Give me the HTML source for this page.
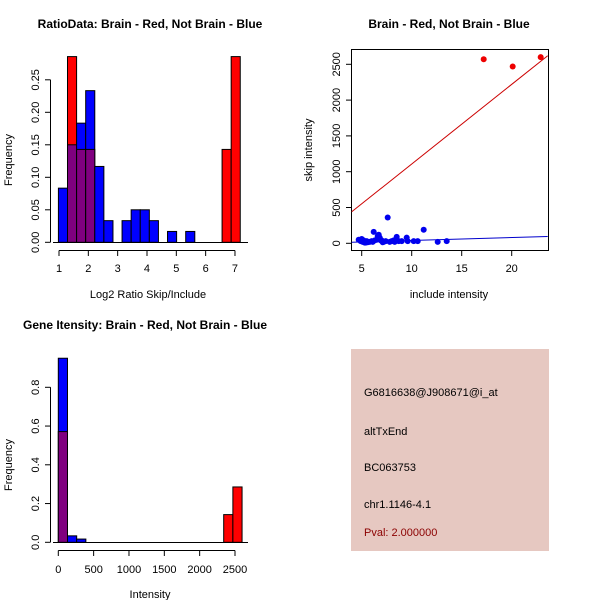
<!DOCTYPE html>
<html><head><meta charset="utf-8"><style>
body{margin:0;background:#fff}
svg{display:block;font-family:"Liberation Sans",sans-serif}
</style></head><body>
<svg id="c" width="600" height="600" xmlns="http://www.w3.org/2000/svg">
<rect width="600" height="600" fill="#fff"/>
</svg>
<script>
// ---- data: panel 1 histogram (Log2 ratio) ----
const ratioBinStart = 0.98;
const ratioBinWidth = 0.31;
const ratioBlue = [0.0833,0.15,0.1833,0.2333,0.1167,0.0333,0,0.0333,0.05,0.05,0.0333,0,0.0167,0,0.0167,0,0,0,0,0];
const ratioRed  = [0,0.2857,0.1429,0.1429,0,0,0,0,0,0,0,0,0,0,0,0,0,0,0.1429,0.2857];
const ratioXTicks = [1,2,3,4,5,6,7];
const ratioYTicks = ["0.00","0.05","0.10","0.15","0.20","0.25"];
// ---- data: panel 2 scatter ----
const blueX = [4.7,4.9,5.0,5.1,5.2,5.3,5.5,5.6,5.8,6.0,6.2,6.3,6.5,6.6,6.7,6.8,6.9,7.0,7.2,7.4,7.6,7.8,8.0,8.2,8.5,8.7,9.0,9.5,9.6,10.2,10.6,11.2,12.6,13.5,5.4,6.1,7.1,8.3];
const blueY = [50,30,60,20,40,10,30,15,20,30,160,40,50,100,120,80,40,40,20,30,360,20,30,40,90,30,30,80,30,30,30,190,20,30,10,20,15,20];
const redX = [17.2,20.1,22.9];
const redY = [2570,2470,2600];
const redLine = [4, 440, 23.6, 2620];
const blueLine = [4, 15, 23.6, 95];
const scatXTicks = [5,10,15,20];
const scatYTicks = [0,500,1000,1500,2000,2500];
// ---- data: panel 3 histogram (intensity) ----
const intBinWidth = 130;
const intBlue = [0.95,0.0333,0.0167,0,0,0,0,0,0,0,0,0,0,0,0,0,0,0,0,0];
const intRed  = [0.5714,0,0,0,0,0,0,0,0,0,0,0,0,0,0,0,0,0,0.1429,0.2857];
const intXTicks = [0,500,1000,1500,2000,2500];
const intYTicks = ["0.0","0.2","0.4","0.6","0.8"];

const svg=document.getElementById('c');
const NS="http://www.w3.org/2000/svg";
function mk(tag,a,parent){const e=document.createElementNS(NS,tag);for(const k in a)e.setAttribute(k,a[k]);(parent||svg).appendChild(e);return e;}
function txt(s,x,y,a){const e=mk('text',Object.assign({x:x,y:y,'font-size':11,'text-anchor':'middle',fill:'#000'},a||{}));e.textContent=s;return e;}

function histo(g,blue,red,start,w,sx,sy){
  for(let i=0;i<blue.length;i++){
    const x0=sx(start+i*w),x1=sx(start+(i+1)*w);
    const b=blue[i],r=red[i],m=Math.min(b,r),M=Math.max(b,r);
    if(M<=0)continue;
    const topCol=b>=r?'#0000ff':'#ff0000';
    const e=mk('rect',{x:x0,y:sy(M),width:x1-x0,height:sy(0)-sy(M),fill:topCol,stroke:'#000','stroke-width':1},g);
    
    
    if(m>0){
      const p=mk('rect',{x:x0,y:sy(m),width:x1-x0,height:sy(0)-sy(m),fill:'#7f007f',stroke:'#000','stroke-width':1},g);
      
      
    }
  }
}

// Panel 1
{
 const g=mk('g',{});
 
 
 const sx=v=>59+(v-1)*29.33, sy=v=>242.3-v*650;
 histo(g,ratioBlue,ratioRed,ratioBinStart,ratioBinWidth,sx,sy);
 mk('line',{x1:53,y1:242.5,x2:248,y2:242.5,stroke:'#000'},g);
 mk('line',{x1:50.5,y1:sy(0),x2:50.5,y2:sy(0.25),stroke:'#000'},g);
 ratioYTicks.forEach(t=>{const y=sy(+t);mk('line',{x1:45,y1:y,x2:50.5,y2:y,stroke:'#000'},g);txt(t,36,y,{transform:`rotate(-90 36 ${y})`,'dominant-baseline':'middle'});});
 mk('line',{x1:sx(1),y1:250.5,x2:sx(7),y2:250.5,stroke:'#000'},g);
 ratioXTicks.forEach(t=>{const x=sx(t);mk('line',{x1:x,y1:250.5,x2:x,y2:256,stroke:'#000'},g);txt(String(t),x,272);});
 const t=txt('RatioData: Brain - Red, Not Brain - Blue',150,28,{'font-weight':'bold','font-size':12});
 
 txt('Log2 Ratio Skip/Include',148,298);
 txt('Frequency',12,160,{transform:'rotate(-90 12 160)'});
}
// Panel 2
{
 const g=mk('g',{});
 
 
 const sx=v=>361.7+(v-5)*10, sy=v=>243.3-v*0.0716;
 mk('rect',{x:351.5,y:49.5,width:197,height:201,fill:'none',stroke:'#000'},g);
 const rl=mk('line',{x1:sx(redLine[0]),y1:sy(redLine[1]),x2:sx(redLine[2]),y2:sy(redLine[3]),stroke:'#cc0000'},g);
 
 const bl=mk('line',{x1:sx(blueLine[0]),y1:sy(blueLine[1]),x2:sx(blueLine[2]),y2:sy(blueLine[3]),stroke:'#0000cc'},g);
 
 blueX.forEach((x,i)=>{const c=mk('circle',{cx:sx(x),cy:sy(blueY[i]),r:3,fill:'#0000ee'},g);});
 redX.forEach((x,i)=>{const c=mk('circle',{cx:sx(x),cy:sy(redY[i]),r:3,fill:'#ee0000'},g);});
 scatYTicks.forEach(t=>{const y=sy(t);mk('line',{x1:346,y1:y,x2:351.5,y2:y,stroke:'#000'},g);txt(String(t),337,y,{transform:`rotate(-90 337 ${y})`,'dominant-baseline':'middle'});});
 scatXTicks.forEach(t=>{const x=sx(t);mk('line',{x1:x,y1:250.5,x2:x,y2:256,stroke:'#000'},g);txt(String(t),x,272);});
 const t=txt('Brain - Red, Not Brain - Blue',449,28,{'font-weight':'bold','font-size':12});
 
 txt('include intensity',449,298);
 txt('skip intensity',312,150,{transform:'rotate(-90 312 150)'});
}
// Panel 3
{
 const g=mk('g',{});
 
 
 const sx=v=>58.3+v*0.07068, sy=v=>542.3-v*193.75;
 histo(g,intBlue,intRed,0,intBinWidth,sx,sy);
 mk('line',{x1:53,y1:542.5,x2:248,y2:542.5,stroke:'#000'},g);
 mk('line',{x1:50.5,y1:sy(0),x2:50.5,y2:sy(0.8),stroke:'#000'},g);
 intYTicks.forEach(t=>{const y=sy(+t);mk('line',{x1:45,y1:y,x2:50.5,y2:y,stroke:'#000'},g);txt(t,36,y,{transform:`rotate(-90 36 ${y})`,'dominant-baseline':'middle'});});
 mk('line',{x1:sx(0),y1:550.5,x2:sx(2500),y2:550.5,stroke:'#000'},g);
 intXTicks.forEach(t=>{const x=sx(t);mk('line',{x1:x,y1:550.5,x2:x,y2:556,stroke:'#000'},g);txt(String(t),x,573);});
 const t=txt('Gene Itensity: Brain - Red, Not Brain - Blue',145,329,{'font-weight':'bold','font-size':12});
 
 txt('Intensity',150,598);
 txt('Frequency',12,465,{transform:'rotate(-90 12 465)'});
}
// Panel 4
{
 const g=mk('g',{});
 
 
 mk('rect',{x:351,y:349,width:198,height:202,fill:'#e6c8c1'},g);
 const lines=[['G6816638@J908671@i_at',396,'#000'],['altTxEnd',435,'#000'],['BC063753',471,'#000'],['chr1.1146-4.1',508,'#000'],['Pval: 2.000000',536,'#8b0000']];
 lines.forEach(l=>{const e=txt(l[0],364,l[1],{'text-anchor':'start',fill:l[2]},g);});
}
</script>
</body></html>
